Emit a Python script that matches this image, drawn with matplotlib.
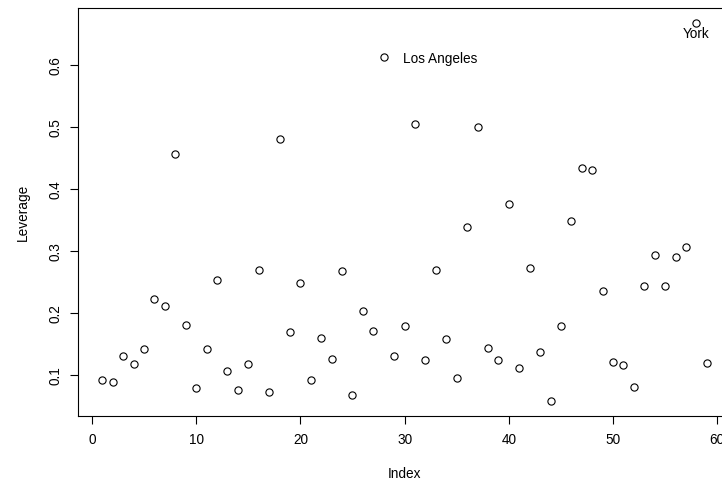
import matplotlib
matplotlib.use("Agg")
import matplotlib.pyplot as plt
import numpy as np

plt.rcParams['font.family'] = ['Liberation Sans', 'DejaVu Sans']

# Hat values (leverage) per observation index
leverage = [
    0.0926, 0.0894, 0.130, 0.118, 0.142, 0.223, 0.2116, 0.456, 0.181, 0.0797,
    0.142, 0.253, 0.107, 0.0765, 0.118, 0.2695, 0.0733, 0.481, 0.170, 0.2485,
    0.0926, 0.160, 0.126, 0.268, 0.0685, 0.2035, 0.1714, 0.613, 0.131, 0.179,
    0.5047, 0.1248, 0.2695, 0.1585, 0.0958, 0.3386, 0.4998, 0.144, 0.1248, 0.3756,
    0.112, 0.2727, 0.1376, 0.0588, 0.179, 0.348, 0.4334, 0.4307, 0.236, 0.1215,
    0.1167, 0.0813, 0.2437, 0.294, 0.2437, 0.2903, 0.3064, 0.6675, 0.120,
]
index = np.arange(1, len(leverage) + 1)

# Labelled high-leverage points: (index, label, placement)
labelled = [(28, "Los Angeles", "right"), (58, "York", "below")]

x_ticks = [0, 10, 20, 30, 40, 50, 60]
y_ticks = [0.1, 0.2, 0.3, 0.4, 0.5, 0.6]

fs = 9.8
fig = plt.figure(figsize=(7.22, 4.85), dpi=100)
ax = fig.add_axes([0.1083, 0.1406, 0.9042, 0.8415])

ax.plot(index, leverage, linestyle='none', marker='o', markersize=5.2,
        markerfacecolor='none', markeredgecolor='black', markeredgewidth=0.8)

for i, lab, where in labelled:
    xv, yv = i, leverage[i - 1]
    if where == "right":
        ax.annotate(lab, (xv, yv), xytext=(14, -1), textcoords='offset points',
                    ha='left', va='center', fontsize=fs)
    else:
        ax.annotate(lab, (xv, yv), xytext=(0, -2.5), textcoords='offset points',
                    ha='center', va='top', fontsize=fs)

# R-style 4% padding on both axes
xr = index.max() - index.min()
yr = max(leverage) - min(leverage)
ax.set_xlim(index.min() - 0.04 * xr, index.max() + 0.04 * xr)
ax.set_ylim(min(leverage) - 0.04 * yr, max(leverage) + 0.04 * yr)

ax.set_xticks(x_ticks)
ax.set_xticklabels([str(t) for t in x_ticks])
ax.set_yticks(y_ticks)
ax.set_yticklabels([f"{t:.1f}" for t in y_ticks], rotation=90, va='center')
ax.tick_params(direction='out', length=6, width=0.8, labelsize=fs, pad=6)
ax.tick_params(axis='y', pad=5)
for s in ax.spines.values():
    s.set_linewidth(0.8)

ax.set_xlabel("Index", fontsize=fs, labelpad=14)
ax.set_ylabel("Leverage", fontsize=fs, labelpad=14)

fig.savefig("out.png", dpi=100)
